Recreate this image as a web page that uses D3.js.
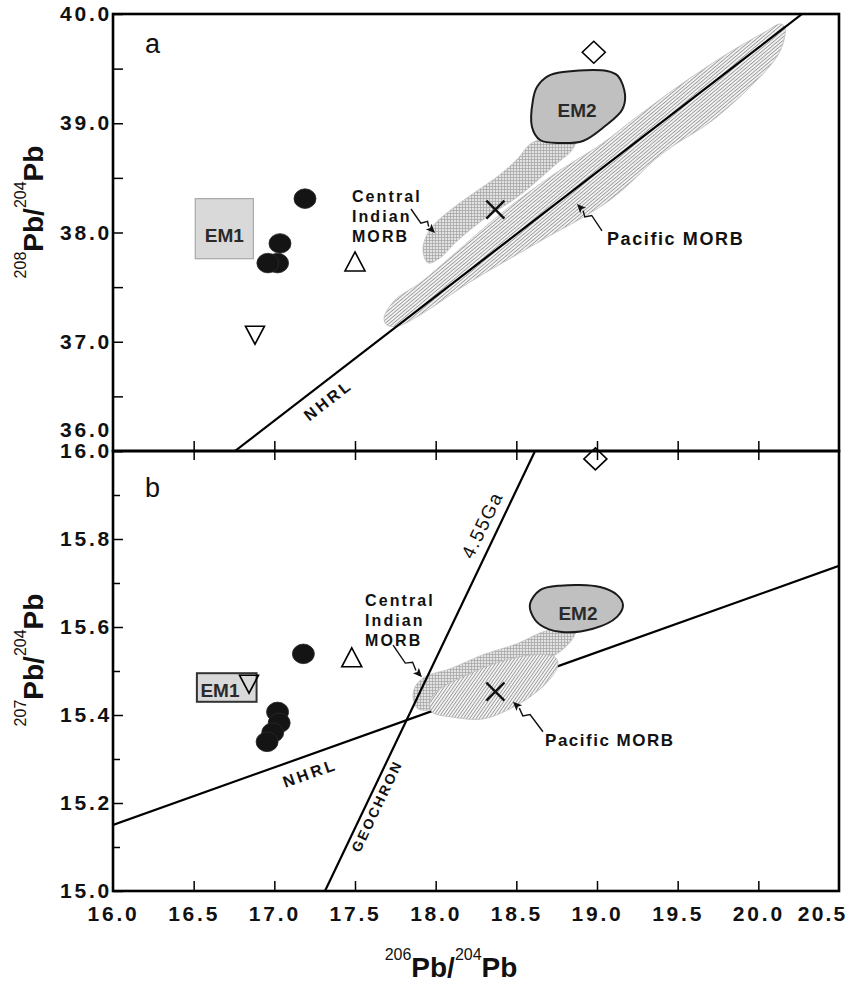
<!DOCTYPE html>
<html><head><meta charset="utf-8">
<script src="https://cdn.jsdelivr.net/npm/d3@7"></script>
<style>body{margin:0;background:#fff}svg{display:block}</style>
</head><body>
<svg id="chart" width="850" height="993"></svg>
<script>
// ---------- tick values ----------
const xTickValues = [16.0,16.5,17.0,17.5,18.0,18.5,19.0,19.5,20.0,20.5];
const aYTickValues = [36,37,38,39,40];
const aYMinorTicks = [36.5,37.5,38.5,39.5];
const bYTickValues = [15.0,15.2,15.4,15.6,15.8,16.0];
const bYMinorTicks = [15.1,15.3,15.5,15.7,15.9];

// ---------- panel a : 208Pb/204Pb vs 206Pb/204Pb ----------
const aCircles = [[17.19,38.31],[17.035,37.90],[17.02,37.72],[16.96,37.72]];
const aUpTriangles = [[17.50,37.73]];
const aDownTriangles = [[16.88,37.06]];
const aDiamonds = [[18.98,39.65]];
const aCrosses = [[18.37,38.21]];
const aEM1 = [[16.51,37.76],[16.87,38.31]];
const aEM2 = [[18.628,39.332],[18.696,39.432],[18.789,39.469],[19.062,39.478],[19.130,39.432],
  [19.174,39.259],[19.155,39.121],[19.050,38.975],[18.913,38.838],[18.771,38.819],
  [18.647,38.847],[18.597,38.966],[18.603,39.213]];
const aCentralIndian = [[17.953,37.721],[17.922,37.822],[17.934,37.941],[17.985,38.065],[18.100,38.215],
  [18.250,38.375],[18.390,38.520],[18.505,38.670],[18.590,38.815],[18.678,38.857],[18.864,38.828],
  [18.845,38.755],[18.740,38.618],[18.523,38.343],[18.275,38.096],[18.120,37.904],[18.027,37.767]];
const aPacific = [[17.680,37.217],[17.748,37.382],[17.903,37.538],[18.107,37.794],[18.417,38.188],
  [18.727,38.526],[19.037,38.819],[19.205,39.011],[19.515,39.350],[19.825,39.652],[20.041,39.835],
  [20.134,39.908],[20.165,39.881],[20.159,39.762],[20.122,39.625],[20.010,39.423],[19.719,39.030],
  [19.409,38.728],[19.081,38.297],[18.628,37.904],[18.213,37.547],[17.903,37.245],[17.767,37.144],[17.698,37.153]];
const aNHRL = [[16.756,36.0],[20.271,40.0]];

// ---------- panel b : 207Pb/204Pb vs 206Pb/204Pb ----------
const bCircles = [[17.18,15.539],[17.02,15.407],[17.03,15.382],[16.99,15.36],[16.955,15.339]];
const bUpTriangles = [[17.48,15.53]];
const bDownTriangles = [[16.843,15.47]];
const bDiamonds = [[18.99,15.982]];
const bCrosses = [[18.37,15.453]];
const bEM1 = [[16.52,15.43],[16.89,15.495]];
const bEM2 = [[18.585,15.653],[18.647,15.684],[18.771,15.694],[19.019,15.691],[19.124,15.673],
  [19.161,15.650],[19.124,15.623],[18.975,15.596],[18.771,15.589],[18.647,15.605],[18.597,15.628]];
const bCentralIndian = [[17.860,15.437],[17.872,15.464],[17.934,15.487],[18.089,15.505],[18.293,15.537],
  [18.504,15.562],[18.665,15.589],[18.771,15.596],[18.864,15.589],[18.845,15.571],[18.771,15.544],
  [18.678,15.525],[18.399,15.498],[18.089,15.453],[17.965,15.412],[17.890,15.414]];
const bPacific = [[17.977,15.407],[18.089,15.396],[18.293,15.391],[18.461,15.414],[18.603,15.446],
  [18.709,15.482],[18.758,15.514],[18.740,15.532],[18.603,15.537],[18.399,15.521],[18.194,15.491],
  [18.027,15.459],[17.965,15.430]];
const bNHRL = [[16.0,15.15],[20.5,15.739]];
const bGeochron = [[17.314,15.0],[18.616,16.0]];

// ---------- annotation anchors (data units) ----------
const aLabels = {em1:[16.69,37.977], em2:[18.876,39.12], central:[17.481,38.33], pacific:[19.062,37.94], nhrl:[17.333,36.467]};
const aArrows = {central:[[17.847,38.215],[17.996,37.995]], pacific:[[19.031,38.014],[18.876,38.261]]};
const bLabels = {em1:[16.663,15.455], em2:[18.882,15.632], central:[17.562,15.661], pacific:[18.678,15.344],
  nhrl:[17.221,15.268], geochron:[17.636,15.193], ga:[18.287,15.832]};
const bArrows = {central:[[17.736,15.559],[17.915,15.486]], pacific:[[18.665,15.362],[18.479,15.430]]};

// ---------- layout ----------
const L=113, R=839, TOP=14, MID=451, BOT=891;
const x = d3.scaleLinear().domain([16,20.5]).range([L,R]);
const yA = d3.scaleLinear().domain([36,40]).range([MID,TOP]);
const yB = d3.scaleLinear().domain([15,16]).range([BOT,MID]);
const FONT = "'Liberation Sans', Arial, Helvetica, sans-serif";

const svg = d3.select('#chart').style('font-family', FONT);
const defs = svg.append('defs');
defs.append('clipPath').attr('id','clipA').append('rect').attr('x',L).attr('y',TOP).attr('width',R-L).attr('height',MID-TOP);
defs.append('clipPath').attr('id','clipB').append('rect').attr('x',L).attr('y',MID).attr('width',R-L).attr('height',BOT-MID);

// cross-hatch pattern (Central Indian MORB)
const xp = defs.append('pattern').attr('id','xhatch').attr('patternUnits','userSpaceOnUse').attr('width',3).attr('height',3);
xp.append('rect').attr('width',3).attr('height',3).attr('fill','#e2e2e2');
xp.append('path').attr('d','M0,0.5H3M0.5,0V3').attr('stroke','#a2a2a2').attr('stroke-width',0.7).attr('fill','none');
// line hatch pattern (Pacific MORB)
function hatch(id, angle){
  const p = defs.append('pattern').attr('id',id).attr('patternUnits','userSpaceOnUse')
    .attr('width',2.6).attr('height',2.6).attr('patternTransform',`rotate(${angle})`);
  p.append('rect').attr('width',2.6).attr('height',2.6).attr('fill','#f3f3f3');
  p.append('line').attr('x1',0).attr('y1',1.3).attr('x2',2.6).attr('y2',1.3).attr('stroke','#909090').attr('stroke-width',0.8);
}
hatch('hatchA',-40); hatch('hatchB',-55);

function shapePath(y){ return d3.line().x(d=>x(d[0])).y(d=>y(d[1])).curve(d3.curveCatmullRomClosed.alpha(0.5)); }

function drawLine(g, pts, y){
  g.append('line').attr('x1',x(pts[0][0])).attr('y1',y(pts[0][1])).attr('x2',x(pts[1][0])).attr('y2',y(pts[1][1]))
   .attr('stroke','#000').attr('stroke-width',2.2);
}
function lineAngle(pts, y){
  return Math.atan2(y(pts[1][1])-y(pts[0][1]), x(pts[1][0])-x(pts[0][0]))*180/Math.PI;
}
function drawMarkers(g, y, circles, ups, downs, diamonds, crosses){
  g.selectAll(null).data(circles).enter().append('ellipse')
    .attr('cx',d=>x(d[0])).attr('cy',d=>y(d[1])).attr('rx',11).attr('ry',9.8)
    .attr('fill','#141414').attr('stroke','#2a2a2a').attr('stroke-width',0.8);
  g.selectAll(null).data(ups).enter().append('path')
    .attr('d',d=>{const cx=x(d[0]),cy=y(d[1]);return `M${cx},${cy-10}L${cx+10},${cy+9}L${cx-10},${cy+9}Z`;})
    .attr('fill','#fff').attr('stroke','#000').attr('stroke-width',1.6);
  g.selectAll(null).data(downs).enter().append('path')
    .attr('d',d=>{const cx=x(d[0]),cy=y(d[1]);return `M${cx-9.5},${cy-9}L${cx+9.5},${cy-9}L${cx},${cy+9}Z`;})
    .attr('fill','none').attr('stroke','#000').attr('stroke-width',1.6);
  g.selectAll(null).data(diamonds).enter().append('path')
    .attr('d',d=>{const cx=x(d[0]),cy=y(d[1]);return `M${cx},${cy-11}L${cx+11.5},${cy}L${cx},${cy+11}L${cx-11.5},${cy}Z`;})
    .attr('fill','#fff').attr('stroke','#000').attr('stroke-width',1.6);
  g.selectAll(null).data(crosses).enter().append('path')
    .attr('d',d=>{const cx=x(d[0]),cy=y(d[1]);return `M${cx-9},${cy-9}L${cx+9},${cy+9}M${cx+9},${cy-9}L${cx-9},${cy+9}`;})
    .attr('fill','none').attr('stroke','#111').attr('stroke-width',2.4);
}
function drawArrow(g, pts, y){
  const sx=x(pts[0][0]), sy=y(pts[0][1]), tx=x(pts[1][0]), ty=y(pts[1][1]);
  const dx=tx-sx, dy=ty-sy, len=Math.hypot(dx,dy), ux=dx/len, uy=dy/len, px=-uy, py=ux;
  const p1=[sx+dx*0.5+px*3, sy+dy*0.5+py*3], p2=[sx+dx*0.6-px*3, sy+dy*0.6-py*3];
  const hb=[tx-ux*9, ty-uy*9];
  g.append('path').attr('d',`M${sx},${sy}L${p1[0]},${p1[1]}L${p2[0]},${p2[1]}L${hb[0]},${hb[1]}`)
    .attr('fill','none').attr('stroke','#111').attr('stroke-width',1.4);
  g.append('path').attr('d',`M${tx},${ty}L${hb[0]+px*4},${hb[1]+py*4}L${hb[0]+ux*2},${hb[1]+uy*2}L${hb[0]-px*4},${hb[1]-py*4}Z`)
    .attr('fill','#111');
}
function multiline(g, pos, y, lines, size, ls){
  const t = g.append('text').attr('x',x(pos[0])).attr('y',y(pos[1]))
    .attr('font-size',size).attr('font-weight','bold').attr('letter-spacing',ls).attr('fill','#111');
  lines.forEach((s,i)=>t.append('tspan').attr('x',x(pos[0])).attr('dy', i===0? '0.35em' : 20).text(s));
}
function rotLabel(g, pos, y, text, angle, size, weight, ls){
  g.append('text').attr('transform',`translate(${x(pos[0])},${y(pos[1])}) rotate(${angle})`)
    .attr('text-anchor','middle').attr('dy','0.35em').attr('font-size',size).attr('font-weight',weight)
    .attr('letter-spacing',ls).attr('fill','#111').text(text);
}
function emBox(g, box, y, stroke, sw){
  g.append('rect').attr('x',x(box[0][0])).attr('y',y(box[1][1]))
    .attr('width',x(box[1][0])-x(box[0][0])).attr('height',y(box[0][1])-y(box[1][1]))
    .attr('fill','#d9d9d9').attr('stroke',stroke).attr('stroke-width',sw);
}
function emLabel(g, pos, y, text){
  g.append('text').attr('x',x(pos[0])).attr('y',y(pos[1])).attr('text-anchor','middle').attr('dy','0.35em')
    .attr('font-size',19).attr('font-weight','bold').attr('fill','#2a2a2a').text(text);
}

// ================= PANEL A =================
const gA = svg.append('g');
const gAc = gA.append('g').attr('clip-path','url(#clipA)');
gAc.append('path').attr('d',shapePath(yA)(aCentralIndian)).attr('fill','url(#xhatch)').attr('stroke','#c4c4c4').attr('stroke-width',0.8);
gAc.append('path').attr('d',shapePath(yA)(aPacific)).attr('fill','url(#hatchA)').attr('stroke','#bdbdbd').attr('stroke-width',0.8);
drawLine(gAc, aNHRL, yA);
gAc.append('path').attr('d',shapePath(yA)(aEM2)).attr('fill','#c0c0c0').attr('stroke','#1a1a1a').attr('stroke-width',2);
emBox(gA, aEM1, yA, '#a8a8a8', 1.2);
emLabel(gA, aLabels.em1, yA, 'EM1');
emLabel(gA, aLabels.em2, yA, 'EM2');
drawMarkers(gA, yA, aCircles, aUpTriangles, aDownTriangles, aDiamonds, aCrosses);
multiline(gA, aLabels.central, yA, ['Central','Indian','MORB'], 16, 2.1);
gA.append('text').attr('x',x(aLabels.pacific[0])).attr('y',yA(aLabels.pacific[1])).attr('dy','0.35em')
  .attr('font-size',18).attr('font-weight','bold').attr('letter-spacing',1.6).attr('fill','#111').text('Pacific MORB');
drawArrow(gA, aArrows.central, yA);
drawArrow(gA, aArrows.pacific, yA);
rotLabel(gA, aLabels.nhrl, yA, 'NHRL', lineAngle(aNHRL,yA), 16, 'bold', 3);
gA.append('text').attr('x',145).attr('y',53).attr('font-size',27).attr('fill','#111').text('a');

// ================= PANEL B =================
const gB = svg.append('g');
const gBc = gB.append('g').attr('clip-path','url(#clipB)');
drawLine(gBc, bNHRL, yB);
gBc.append('path').attr('d',shapePath(yB)(bCentralIndian)).attr('fill','url(#xhatch)').attr('stroke','#c4c4c4').attr('stroke-width',0.8);
gBc.append('path').attr('d',shapePath(yB)(bPacific)).attr('fill','url(#hatchB)').attr('stroke','#bdbdbd').attr('stroke-width',0.8);
gBc.append('path').attr('d',shapePath(yB)(bEM2)).attr('fill','#c0c0c0').attr('stroke','#1a1a1a').attr('stroke-width',2);
drawLine(gBc, bGeochron, yB);
emBox(gB, bEM1, yB, '#333', 2);
emLabel(gB, bLabels.em1, yB, 'EM1');
emLabel(gB, bLabels.em2, yB, 'EM2');
drawMarkers(gB, yB, bCircles, bUpTriangles, bDownTriangles, bDiamonds, bCrosses);
multiline(gB, bLabels.central, yB, ['Central','Indian','MORB'], 16, 2.1);
gB.append('text').attr('x',x(bLabels.pacific[0])).attr('y',yB(bLabels.pacific[1])).attr('dy','0.35em')
  .attr('font-size',17).attr('font-weight','bold').attr('letter-spacing',1.5).attr('fill','#111').text('Pacific MORB');
drawArrow(gB, bArrows.central, yB);
drawArrow(gB, bArrows.pacific, yB);
rotLabel(gB, bLabels.nhrl, yB, 'NHRL', lineAngle(bNHRL,yB), 16, 'bold', 3);
rotLabel(gB, bLabels.geochron, yB, 'GEOCHRON', lineAngle(bGeochron,yB), 14, 'bold', 2.2);
rotLabel(gB, bLabels.ga, yB, '4.55Ga', lineAngle(bGeochron,yB), 19, 'normal', 1.5);
gB.append('text').attr('x',145).attr('y',497).attr('font-size',27).attr('fill','#111').text('b');

// ================= AXES =================
function styleAxis(g){
  g.select('.domain').remove();
  g.selectAll('.tick line').attr('stroke','#000').attr('stroke-width',1.5);
  g.selectAll('.tick text').attr('font-family',FONT).attr('font-size',21).attr('font-weight','bold')
    .attr('letter-spacing',2.8).attr('fill','#111');
  g.attr('font-family',null).attr('font-size',null);
}
const fmt = d3.format('.1f');
// panel a y axis
const axA = svg.append('g').attr('transform',`translate(${L},0)`)
  .call(d3.axisLeft(yA).tickValues(aYTickValues).tickSize(-10).tickPadding(1).tickFormat(fmt));
styleAxis(axA);
axA.selectAll('.tick').filter(d=>d===36).select('text').attr('y',-21);
const axAm = svg.append('g').attr('transform',`translate(${L},0)`)
  .call(d3.axisLeft(yA).tickValues(aYMinorTicks).tickSize(-10).tickFormat(''));
styleAxis(axAm);
// panel a bottom ticks (no labels)
const axAx = svg.append('g').attr('transform',`translate(0,${MID})`)
  .call(d3.axisBottom(x).tickValues(xTickValues.slice(1,-1)).tickSize(-10).tickFormat(''));
styleAxis(axAx);
// panel b top ticks
const axBt = svg.append('g').attr('transform',`translate(0,${MID})`)
  .call(d3.axisTop(x).tickValues(xTickValues.slice(1,-1)).tickSize(-9).tickFormat(''));
styleAxis(axBt);
// panel b y axis
const axB = svg.append('g').attr('transform',`translate(${L},0)`)
  .call(d3.axisLeft(yB).tickValues(bYTickValues).tickSize(-10).tickPadding(1).tickFormat(fmt));
styleAxis(axB);
const axBm = svg.append('g').attr('transform',`translate(${L},0)`)
  .call(d3.axisLeft(yB).tickValues(bYMinorTicks).tickSize(-7).tickFormat(''));
styleAxis(axBm);
// panel b x axis
const axBx = svg.append('g').attr('transform',`translate(0,${BOT})`)
  .call(d3.axisBottom(x).tickValues(xTickValues).tickSize(-10).tickPadding(15).tickFormat(fmt));
styleAxis(axBx);
axBx.selectAll('.tick line').filter(d=>d===16||d===20.5).remove();
axBx.selectAll('.tick').filter(d=>d===20.5).select('text')
  .attr('text-anchor','end').attr('x',8).attr('letter-spacing',2.2);

// frames
svg.append('rect').attr('x',L).attr('y',TOP).attr('width',R-L).attr('height',MID-TOP)
  .attr('fill','none').attr('stroke','#000').attr('stroke-width',2.6);
svg.append('rect').attr('x',L).attr('y',MID).attr('width',R-L).attr('height',BOT-MID)
  .attr('fill','none').attr('stroke','#000').attr('stroke-width',2.6);

// ================= AXIS TITLES =================
function isoTitle(t, a, b){
  t.append('tspan').attr('font-size',16).attr('font-weight','normal').attr('dy',-17).text(a);
  t.append('tspan').attr('font-size',28).attr('font-weight','bold').attr('dy',17).text('Pb/');
  t.append('tspan').attr('font-size',16).attr('font-weight','normal').attr('dy',-17).text(b);
  t.append('tspan').attr('font-size',28).attr('font-weight','bold').attr('dy',17).text('Pb');
}
isoTitle(svg.append('text').attr('transform','translate(43,212) rotate(-90)').attr('text-anchor','middle').attr('fill','#111'), '208', '204');
isoTitle(svg.append('text').attr('transform','translate(43,660) rotate(-90)').attr('text-anchor','middle').attr('fill','#111'), '207', '204');
isoTitle(svg.append('text').attr('x',451).attr('y',977).attr('text-anchor','middle').attr('fill','#111'), '206', '204');
</script>
</body></html>
